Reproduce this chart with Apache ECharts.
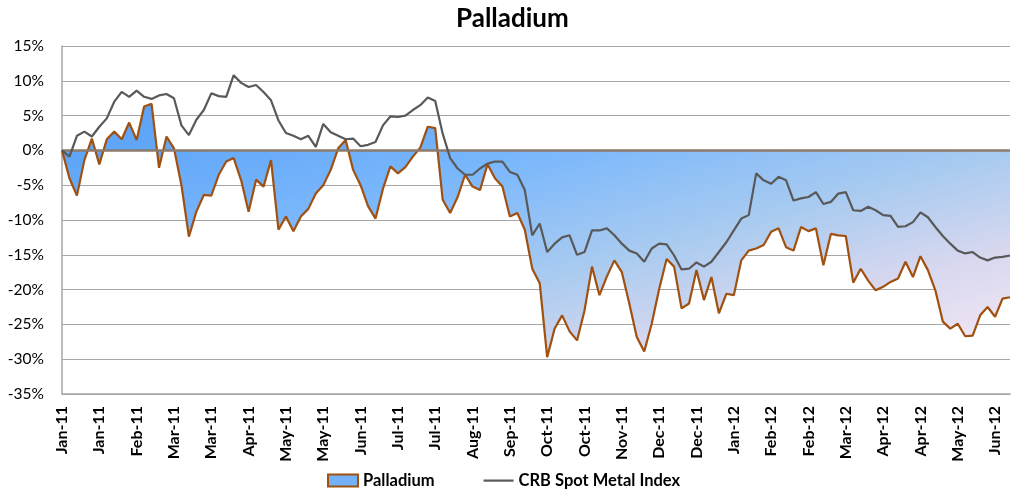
<!DOCTYPE html>
<html>
<head>
<meta charset="utf-8">
<script src="https://cdn.jsdelivr.net/npm/echarts@6/dist/echarts.min.js"></script>
<style>
html,body{margin:0;padding:0;background:#fff;}
#chart{width:1011px;height:492px;}
</style>
</head>
<body>
<div id="chart"></div>
<script>
// Tick labels shown on the category axis (one every 5 points)
var tickLabels = ["Jan-11","Jan-11","Feb-11","Mar-11","Mar-11","Apr-11","May-11","May-11","Jun-11","Jul-11","Jul-11","Aug-11","Sep-11","Oct-11","Oct-11","Nov-11","Dec-11","Dec-11","Jan-12","Feb-12","Feb-12","Mar-12","Apr-12","Apr-12","May-12","Jun-12"];

// Palladium cumulative return (%)
var palladium = [0,-4.0,-6.5,-1.4,1.7,-2.0,1.6,2.7,1.6,4.0,
  1.5,6.3,6.7,-2.5,2.0,0.3,-5.0,-12.4,-8.8,-6.4,
  -6.5,-3.5,-1.6,-1.1,-4.3,-8.8,-4.2,-5.2,-1.4,-11.4,
  -9.5,-11.6,-9.5,-8.4,-6.2,-5.0,-2.8,0.3,1.5,-2.8,
  -5.0,-8.0,-9.8,-5.5,-2.3,-3.3,-2.4,-0.9,0.4,3.4,
  3.2,-7.1,-9.0,-6.7,-3.5,-5.2,-5.7,-2.0,-4.0,-5.2,
  -9.5,-9.0,-11.4,-17.0,-19.1,-29.7,-25.6,-23.7,-26.0,-27.3,
  -23.0,-16.7,-20.8,-18.1,-15.8,-17.5,-22.0,-26.8,-28.9,-24.9,
  -19.9,-15.6,-16.7,-22.7,-22.0,-17.2,-21.5,-18.2,-23.4,-20.6,
  -20.8,-15.8,-14.4,-14.1,-13.6,-11.7,-11.2,-13.9,-14.4,-11.0,
  -11.6,-11.2,-16.5,-12.0,-12.2,-12.3,-19.0,-17.0,-18.7,-20.1,
  -19.6,-18.9,-18.4,-16.0,-18.2,-15.2,-17.2,-20.1,-24.6,-25.6,
  -24.9,-26.7,-26.6,-23.7,-22.5,-23.9,-21.3,-21.1];

// CRB Spot Metal Index cumulative return (%)
var crbMetal = [0,-0.9,2.1,2.7,2.0,3.4,4.6,7.0,8.4,7.7,
  8.6,7.7,7.4,7.9,8.1,7.5,3.6,2.2,4.4,5.8,
  8.2,7.8,7.7,10.8,9.7,9.1,9.4,8.4,7.2,4.3,
  2.5,2.1,1.6,2.1,0.5,3.8,2.6,2.1,1.6,1.7,
  0.6,0.8,1.2,3.6,4.9,4.8,5.0,5.8,6.5,7.6,
  7.1,2.4,-1.1,-2.6,-3.5,-3.5,-2.6,-1.9,-1.6,-1.6,
  -3.1,-3.5,-5.7,-12.2,-10.5,-14.6,-13.4,-12.5,-12.2,-15.0,
  -14.6,-11.5,-11.5,-11.2,-12.2,-13.4,-14.4,-14.8,-16.0,-14.1,
  -13.4,-13.5,-15.1,-17.1,-17.0,-16.1,-16.7,-16.0,-14.6,-13.2,
  -11.5,-9.8,-9.3,-3.3,-4.3,-4.8,-3.8,-4.3,-7.2,-6.9,
  -6.7,-6.0,-7.7,-7.4,-6.2,-6.0,-8.6,-8.7,-8.1,-8.6,
  -9.3,-9.4,-11.0,-10.9,-10.3,-8.9,-9.6,-11.0,-12.3,-13.4,
  -14.4,-14.8,-14.6,-15.4,-15.8,-15.4,-15.3,-15.1];

var perLabel = 5;
var categories = palladium.map(function (_, i) { return tickLabels[Math.floor(i / perLabel)]; });

var FONT = 'Lato, "Open Sans", sans-serif';
var chart = echarts.init(document.getElementById('chart'), null, {renderer: 'canvas'});
var option = {
  animation: false,
  backgroundColor: '#ffffff',
  title: {
    text: 'Palladium',
    left: 451,
    top: 1,
    textStyle: {fontFamily: FONT, fontWeight: 'bold', fontSize: 26, color: '#000'}
  },
  legend: {
    left: 327,
    top: 472,
    padding: 0,
    itemGap: 49,
    itemWidth: 30,
    itemHeight: 12,
    textStyle: {fontFamily: FONT, fontWeight: 'bold', fontSize: 16.5, color: '#000'},
    data: [
      {name: 'Palladium', icon: 'rect',
       itemStyle: {color: '#74b1f7', borderColor: '#a0500f', borderWidth: 2}},
      {name: 'CRB Spot Metal Index',
       icon: 'path://M0,0L0,0M0,5L30,5L30,7.2L0,7.2ZM30,12L30,12',
       itemStyle: {color: '#595959', borderWidth: 0}}
    ]
  },
  grid: {left: 62, right: 1, top: 46, bottom: 98, containLabel: false},
  xAxis: {
    type: 'category',
    data: categories,
    boundaryGap: false,
    axisLine: {show: true, onZero: false, lineStyle: {color: '#a6a6a6', width: 1.5}},
    axisTick: {show: false},
    axisLabel: {
      interval: perLabel - 1,
      rotate: 90,
      margin: 12,
      fontFamily: FONT,
      fontWeight: 'bold',
      fontSize: 16,
      color: '#000'
    },
    splitLine: {show: false}
  },
  yAxis: {
    type: 'value',
    min: -35,
    max: 15,
    interval: 5,
    axisLine: {show: true, lineStyle: {color: '#a6a6a6', width: 1.5}},
    axisTick: {show: false},
    axisLabel: {
      formatter: function (v) { return v + '%'; },
      fontFamily: FONT,
      fontSize: 15.5,
      color: '#000',
      margin: 18
    },
    splitLine: {show: true, lineStyle: {color: '#a6a6a6', width: 1.2}}
  },
  series: [
    {
      name: 'Palladium',
      type: 'line',
      data: palladium,
      symbol: 'none',
      z: 3,
      lineStyle: {color: '#a0500f', width: 2.2},
      itemStyle: {color: '#a0500f'},
      areaStyle: {
        origin: 0,
        opacity: 1,
        color: new echarts.graphic.LinearGradient(0, 0, 0.134, 1.866, [
          {offset: 0, color: '#5a9ff5'},
          {offset: 0.12, color: '#60a6f8'},
          {offset: 0.35, color: '#7ab7fc'},
          {offset: 0.6, color: '#a9cbf0'},
          {offset: 0.78, color: '#d6d7ef'},
          {offset: 0.93, color: '#ece3f3'},
          {offset: 1, color: '#f2e8f4'}
        ])
      },
      markLine: {
        silent: true,
        symbol: 'none',
        label: {show: false},
        lineStyle: {color: '#8c7a6a', width: 2.5, type: 'solid'},
        data: [{yAxis: 0}],
        z: 4
      }
    },
    {
      name: 'CRB Spot Metal Index',
      type: 'line',
      data: crbMetal,
      symbol: 'none',
      z: 5,
      lineStyle: {color: '#595959', width: 2.2},
      itemStyle: {color: '#595959'}
    }
  ]
};
chart.setOption(option);
</script>
</body>
</html>
